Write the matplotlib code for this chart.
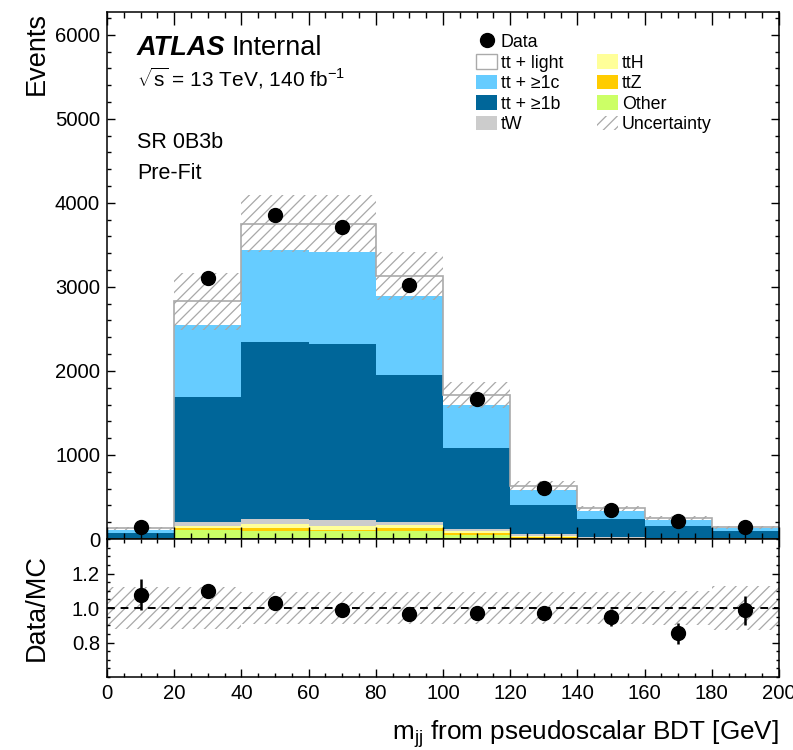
"""Stacked pre-fit mjj distribution with data/MC ratio panel."""

import numpy as np
import matplotlib.pyplot as plt
from matplotlib.patches import Patch
from matplotlib.lines import Line2D
from matplotlib.ticker import MultipleLocator

plt.rcParams['font.family'] = ['Liberation Sans', 'DejaVu Sans']
plt.rcParams['mathtext.fontset'] = 'custom'
plt.rcParams['mathtext.rm'] = 'Liberation Sans'
plt.rcParams['mathtext.it'] = 'Liberation Sans:italic'
plt.rcParams['mathtext.bf'] = 'Liberation Sans:bold'
plt.rcParams['hatch.linewidth'] = 0.9
plt.rcParams['hatch.color'] = '#a8a8a8'

# ── Inputs ───────────────────────────────────────────────────────────────────
edges = np.arange(0, 201, 20)

other = [4, 110, 100, 90, 99, 48, 15, 6, 4, 3]
ttz = [1, 20, 31, 22, 32, 23, 8, 4, 2, 1]
tth = [3, 20, 47, 38, 31, 24, 17, 6, 3, 2]
tw = [4, 50, 65, 80, 40, 24, 20, 10, 6, 4]
ttb = [55, 1490, 2102, 2090, 1748, 958, 350, 209, 135, 83]
ttc = [44, 860, 1095, 1100, 940, 515, 170, 100, 74, 32]
ttlight = [17, 280, 310, 330, 240, 123, 50, 30, 21, 15]
data = [138, 3110, 3860, 3715, 3020, 1665, 612, 345, 209, 138]
rel_unc = [0.12, 0.12, 0.09, 0.09, 0.09, 0.09, 0.09, 0.09, 0.10, 0.125]

# bottom-to-top stacking order
samples = [
    ('Other', other, '#ccff66'),
    ('ttZ', ttz, '#ffcc00'),
    ('ttH', tth, '#ffff99'),
    ('tW', tw, '#cccccc'),
    ('tt + ≥1b', ttb, '#006699'),
    ('tt + ≥1c', ttc, '#66ccff'),
    ('tt + light', ttlight, 'white'),
]

centers = 0.5 * (edges[:-1] + edges[1:])
width = np.diff(edges)
data = np.array(data, dtype=float)
unc = np.array(rel_unc)

fig = plt.figure(figsize=(7.93, 7.5), dpi=100)
ax = fig.add_axes([0.13493, 0.28133, 0.84741, 0.70267])
axr = fig.add_axes([0.13493, 0.09733, 0.84741, 0.184], sharex=ax)

# ── Stack ────────────────────────────────────────────────────────────────────
bottom = np.zeros(len(centers))
for name, vals, col in samples:
    vals = np.array(vals, dtype=float)
    ax.bar(centers, vals, width=width, bottom=bottom, color=col, linewidth=0)
    bottom += vals
total = bottom
ax.stairs(total, edges, color='#aaaaaa', linewidth=1.2, baseline=None)

# MC uncertainty band
ax.bar(centers, 2 * unc * total, width=width, bottom=total * (1 - unc),
       fill=False, hatch='///', edgecolor='#a8a8a8', linewidth=0)

ax.errorbar(centers, data, yerr=np.sqrt(data), fmt='o', color='k',
            ms=10, elinewidth=1.8, capsize=0, zorder=5)

ax.set_xlim(0, 200)
ax.set_ylim(0, 6270)
ax.set_ylabel('Events', fontsize=19.5, loc='top')
ax.yaxis.set_label_coords(-0.085, 1.0)

# ── Labels ───────────────────────────────────────────────────────────────────
ax.text(0.0446, 0.918, 'ATLAS', transform=ax.transAxes, fontsize=19.5,
        fontweight='bold', fontstyle='italic')
ax.text(0.186, 0.918, 'Internal', transform=ax.transAxes, fontsize=19.5)
ax.text(0.0446, 0.858, r'$\sqrt{\mathrm{s}}$ = 13 TeV, 140 fb$^{\mathrm{-1}}$',
        transform=ax.transAxes, fontsize=15)
ax.text(0.0446, 0.742, 'SR 0B3b', transform=ax.transAxes, fontsize=15.5)
ax.text(0.0446, 0.683, 'Pre-Fit', transform=ax.transAxes, fontsize=15.5)

handles = [
    Line2D([], [], marker='o', color='k', ls='none', ms=10),
    Patch(facecolor='white', edgecolor='#aaaaaa', linewidth=1),
    Patch(facecolor='#66ccff'),
    Patch(facecolor='#006699'),
    Patch(facecolor='#cccccc'),
    Patch(visible=False),
    Patch(facecolor='#ffff99'),
    Patch(facecolor='#ffcc00'),
    Patch(facecolor='#ccff66'),
    Patch(fill=False, hatch='///', edgecolor='#a8a8a8', linewidth=0),
]
labels = ['Data', 'tt + light', 'tt + ≥1c', 'tt + ≥1b', 'tW',
          '', 'ttH', 'ttZ', 'Other', 'Uncertainty']
ax.legend(handles, labels, ncol=2, loc='upper left',
          bbox_to_anchor=(0.549, 0.959), frameon=False, fontsize=12.8,
          handlelength=1.2, handleheight=0.9, handletextpad=0.2,
          labelspacing=0.17, columnspacing=1.9, borderaxespad=0, borderpad=0)

# ── Ratio panel ──────────────────────────────────────────────────────────────
axr.bar(centers, 2 * unc, width=width, bottom=1 - unc,
        fill=False, hatch='///', edgecolor='#a8a8a8', linewidth=0)
axr.axhline(1.0, color='k', linestyle=(0, (4, 3)), linewidth=1.4)
axr.errorbar(centers, data / total, yerr=np.sqrt(data) / total, fmt='o',
             color='k', ms=10, elinewidth=1.8, capsize=0, zorder=5)
axr.set_ylim(0.6, 1.4)
axr.set_yticks([0.8, 1.0, 1.2])
axr.set_yticklabels(['0.8', '1.0', '1.2'])
axr.set_ylabel('Data/MC', fontsize=19.5)
axr.yaxis.set_label_coords(-0.085, 0.5)
axr.set_xlabel(r'm$_{\mathrm{jj}}$ from pseudoscalar BDT [GeV]', fontsize=18.8,
               loc='right')
axr.xaxis.set_label_coords(1.0, -0.30)

# ── Axis styling ─────────────────────────────────────────────────────────────
for a in (ax, axr):
    for s in a.spines.values():
        s.set_linewidth(1.1)
    a.tick_params(which='both', direction='in', top=True, right=True,
                  labelsize=14.6, width=1.0, pad=5)
    a.xaxis.set_major_locator(MultipleLocator(20))
    a.xaxis.set_minor_locator(MultipleLocator(5))

ax.yaxis.set_major_locator(MultipleLocator(1000))
ax.yaxis.set_minor_locator(MultipleLocator(200))
ax.tick_params(axis='x', which='major', length=9)
ax.tick_params(axis='x', which='minor', length=4.5)
ax.tick_params(axis='y', which='major', length=6)
ax.tick_params(axis='y', which='minor', length=3)
ax.tick_params(axis='x', labelbottom=False)

axr.yaxis.set_minor_locator(MultipleLocator(0.05))
axr.tick_params(axis='x', which='major', length=6)
axr.tick_params(axis='x', which='minor', length=3)
axr.tick_params(axis='y', which='major', length=5)
axr.tick_params(axis='y', which='minor', length=2.5)

fig.savefig('out.png', dpi=100)
